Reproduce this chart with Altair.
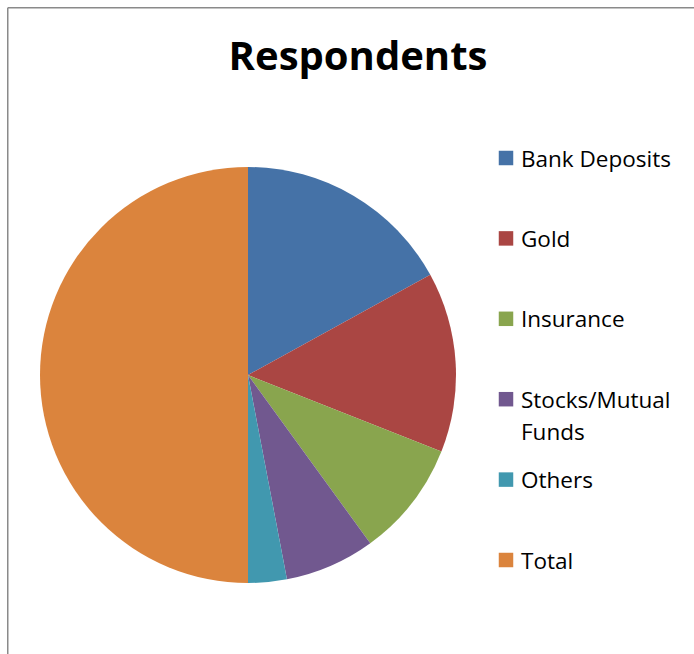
import altair as alt
import pandas as pd

categories = ["Bank Deposits", "Gold", "Insurance", "Stocks/Mutual Funds", "Others", "Total"]
values = [34, 28, 18, 14, 6, 100]
colors = ["#4572A7", "#AA4643", "#89A54E", "#71588F", "#4198AF", "#DB843D"]
title_text = "Respondents"

df = pd.DataFrame({"cat": categories, "value": values, "idx": list(range(len(categories)))})

color = alt.Color("cat:N", sort=categories,
                  scale=alt.Scale(domain=categories, range=colors), legend=None)

pie = alt.Chart(df).mark_arc(outerRadius=208).encode(
    theta=alt.Theta("value:Q", stack=True),
    color=color,
    order=alt.Order("idx:Q"),
    x=alt.value(248),
    y=alt.value(375),
)

ypos = alt.Y("cat:N", sort=categories,
             scale=alt.Scale(type="point", range=[158, 560], padding=0), axis=None)

leg_sym = alt.Chart(df).mark_square(size=210, opacity=1).encode(
    x=alt.value(506), y=ypos, color=color
)

leg_txt = alt.Chart(df).transform_calculate(
    label="replace(datum.cat, 'Mutual ', 'Mutual\\n')"
).mark_text(
    align="left", baseline="alphabetic", dy=8.5, font="Open Sans", fontSize=22.5,
    color="#000000", lineBreak="\n", lineHeight=32
).encode(x=alt.value(521), y=ypos, text="label:N")

title = alt.Chart(pd.DataFrame({"t": [title_text]})).mark_text(
    align="center", baseline="alphabetic", font="Open Sans", fontSize=40,
    fontWeight="bold", color="#000000"
).encode(x=alt.value(358), y=alt.value(70), text="t:N")

frame_df = pd.DataFrame({"d": [0]})
frame_top = alt.Chart(frame_df).mark_rule(color="#8a8a8a", strokeWidth=1.5).encode(
    x=alt.value(7.75), x2=alt.value(700), y=alt.value(7.75))
frame_left = alt.Chart(frame_df).mark_rule(color="#8a8a8a", strokeWidth=1.5).encode(
    x=alt.value(7.75), y=alt.value(7.75), y2=alt.value(660))

chart = alt.layer(frame_top, frame_left, pie, leg_sym, leg_txt, title).properties(
    width=694, height=654, padding=0,
    autosize=alt.AutoSizeParams(type="none"),
    background="white",
).configure_view(stroke=None)

chart.save("out.html", embed_options={"renderer": "svg", "actions": False})
